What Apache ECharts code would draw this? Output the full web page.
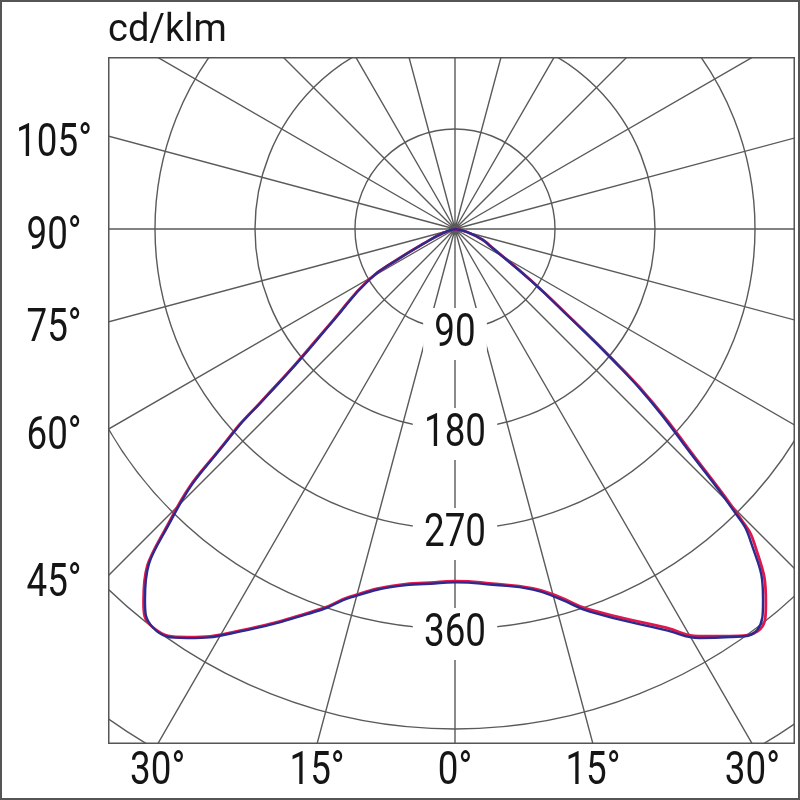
<!DOCTYPE html>
<html><head><meta charset="utf-8">
<script src="https://cdn.jsdelivr.net/npm/echarts@6/dist/echarts.min.js"></script>
<style>
html,body{margin:0;padding:0;background:#fff}
#wrap{position:relative;width:800px;height:800px}
#main{position:absolute;left:0;top:0;width:800px;height:800px}
#plot{position:absolute;left:108px;top:57px;width:687px;height:687px;overflow:hidden}
</style></head><body>
<div id="wrap"><div id="main"></div><div id="plot"></div></div>
<script>
// ---- data (gamma angle in degrees from nadir, intensity in cd/klm) ----
const unitLabel = 'cd/klm';
const radiusTicks = [90, 180, 270, 360];
const leftAngleTicks = [105, 90, 75, 60, 45];
const bottomAngleTicks = [-30, -15, 0, 15, 30];

const gammaRight = [0, 6, 12.2, 15.8, 19.4, 27.9, 30.9, 34, 37, 39.7, 43.5, 44.7, 46.4, 48.7, 50.4, 52.3, 55.8, 64.1, 68.6, 76, 90];
const blueRight  = [318, 322, 332, 346, 365, 409, 429, 443, 452, 434, 386, 356, 293, 233, 181, 131, 82, 35, 27, 11, 0];
const redRight   = [317, 321, 331, 344, 363, 406, 427, 442, 453, 438, 392, 362, 299, 238, 185, 134, 84, 36, 27, 11, 0];

const gammaLeft  = [0, 4, 8.8, 15.9, 19.5, 28.8, 33.2, 37.2, 39.9, 44.4, 47.4, 48.3, 49.7, 53.1, 59.5, 62.2, 64.9, 71.6, 90];
const blueLeft   = [318, 320, 325, 345, 364, 415, 440, 450, 435, 363, 271, 231, 186, 136, 89, 56, 32, 11, 0];
const redLeft    = [317, 319, 324, 344, 363, 414, 439, 450, 437, 366, 274, 234, 189, 138, 90, 57, 32, 11, 0];

// ---- layout ----
const PLOT = {left: 108, top: 57, w: 687, h: 687};
const CENTER = {x: 455, y: 229};
const RMAX = 630, RPX = 700;
const TXT = '#151515', GRID = '#5a5a5a';

function loop(left, right) {
  const pts = [];
  for (let i = gammaLeft.length - 1; i >= 0; i--) pts.push([left[i], -gammaLeft[i]]);
  for (let i = 1; i < gammaRight.length; i++) pts.push([right[i], gammaRight[i]]);
  return pts;
}

const plot = echarts.init(document.getElementById('plot'));
plot.setOption({
  animation: false,
  backgroundColor: 'transparent',
  polar: {center: [CENTER.x - PLOT.left, CENTER.y - PLOT.top], radius: RPX},
  angleAxis: {
    type: 'value', min: -180, max: 180, interval: 15, startAngle: 90, clockwise: false,
    axisLine: {show: false}, axisTick: {show: false}, axisLabel: {show: false},
    splitLine: {show: true, lineStyle: {color: GRID, width: 1.4}}
  },
  radiusAxis: {
    type: 'value', min: 0, max: RMAX, interval: 90,
    axisLine: {show: false}, axisTick: {show: false}, axisLabel: {show: false},
    splitLine: {show: true, lineStyle: {color: GRID, width: 1.4}}
  },
  series: [
    {type: 'line', coordinateSystem: 'polar', data: loop(redLeft, redRight), showSymbol: false, smooth: 0.5,
     lineStyle: {color: '#e0174c', width: 2.8}, z: 3},
    {type: 'line', coordinateSystem: 'polar', data: loop(blueLeft, blueRight), showSymbol: false, smooth: 0.5,
     lineStyle: {color: '#2c2a8e', width: 2.4}, z: 4}
  ]
});
const rLabels = radiusTicks.map(v => {
  const p = plot.convertToPixel({seriesIndex: 0}, [v, 0]);
  return {
    type: 'text', x: p[0], y: p[1] + 5, scaleX: 0.8, z: 10,
    style: {text: String(v), font: '46px Roboto', fill: TXT, align: 'center', verticalAlign: 'middle',
            backgroundColor: '#fff', padding: [3, 14, 3, 14]}
  };
});
rLabels.push({type: 'rect', z: 20, shape: {x: 0.75, y: 0.75, width: PLOT.w - 1.5, height: PLOT.h - 1.5},
  style: {fill: 'none', stroke: '#555', lineWidth: 1.5}});
plot.setOption({graphic: rLabels});

// ---- outer labels ----
const main = echarts.init(document.getElementById('main'));
const g = [];
g.push({type: 'rect', shape: {x: 1, y: 1, width: 798, height: 798}, style: {fill: 'none', stroke: '#555', lineWidth: 2}});
g.push({type: 'text', x: PLOT.left, y: 31, style: {text: unitLabel, font: '38px Roboto', fill: TXT, align: 'left', verticalAlign: 'middle'}});
const dxLeft = CENTER.x - PLOT.left;
leftAngleTicks.forEach(a => {
  const y = CENTER.y + dxLeft / Math.tan(a * Math.PI / 180) + 8;
  g.push({type: 'text', x: PLOT.left / 2, y: y, scaleX: 0.8,
    style: {text: a + '°', font: '46px Roboto', fill: TXT, align: 'center', verticalAlign: 'middle'}});
});
const bottom = PLOT.top + PLOT.h;
const dyBottom = bottom - CENTER.y;
bottomAngleTicks.forEach(a => {
  const x = CENTER.x + dyBottom * Math.tan(a * Math.PI / 180);
  g.push({type: 'text', x: x, y: (bottom + 800) / 2, scaleX: 0.8,
    style: {text: Math.abs(a) + '°', font: '46px Roboto', fill: TXT, align: 'center', verticalAlign: 'middle'}});
});
main.setOption({animation: false, backgroundColor: '#fff', graphic: g});
</script>
</body></html>
